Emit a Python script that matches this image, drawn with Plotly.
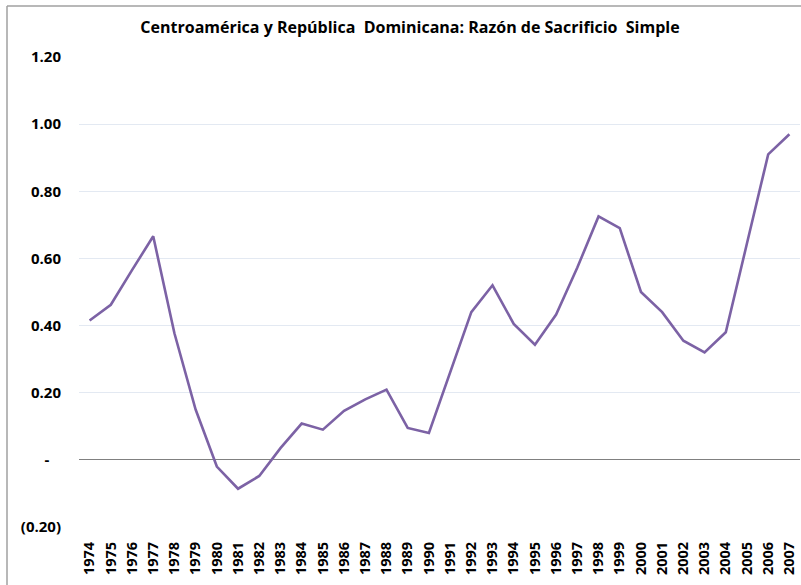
import plotly.graph_objects as go

years = [str(y) for y in range(1974, 2008)]
ratio = [0.415, 0.462, 0.565, 0.666, 0.377, 0.15, -0.02, -0.086, -0.048, 0.035,
         0.108, 0.09, 0.146, 0.18, 0.209, 0.095, 0.08, 0.26, 0.44, 0.52,
         0.405, 0.343, 0.433, 0.573, 0.725, 0.69, 0.50, 0.44, 0.355, 0.32,
         0.38, 0.645, 0.91, 0.97]
ytick_vals = [-0.2, 0.0, 0.2, 0.4, 0.6, 0.8, 1.0, 1.2]
ytick_text = ["(0.20)", "-&nbsp;&nbsp;&nbsp;", "0.20", "0.40", "0.60", "0.80", "1.00", "1.20"]
title_text = "Centroamérica y República  Dominicana: Razón de Sacrificio  Simple"

W, H = 801, 585
ml, mr, mt, mb = 79, 1, 57, 58
pw, ph = W - ml - mr, H - mt - mb

fig = go.Figure()
fig.add_trace(go.Scatter(x=years, y=ratio, mode="lines",
                         line=dict(color="#7C62A5", width=2.6), showlegend=False))

font_fam = "'Open Sans', Lato, sans-serif"
fig.update_layout(
    width=W, height=H,
    margin=dict(l=ml, r=mr, t=mt, b=mb),
    paper_bgcolor="white", plot_bgcolor="white",
    title=dict(text="<b>" + title_text.replace("  ", " &nbsp;") + "</b>", x=410 / W, xanchor="center",
               y=1 - 27 / H, yanchor="middle",
               font=dict(family=font_fam, size=16, color="black")),
    xaxis=dict(type="category", range=[-0.5, 33.5], tickangle=-90,
               showgrid=False, showline=False, ticks="",
               tickfont=dict(family=font_fam, size=14.5, color="black"),
               ticklabelstandoff=11),
    yaxis=dict(range=[-0.2, 1.2], tickvals=ytick_vals,
               ticktext=["<b>%s</b>" % t for t in ytick_text],
               showgrid=True, gridcolor="#E3E9F2", gridwidth=1,
               zeroline=True, zerolinecolor="#808080", zerolinewidth=1,
               showline=False, ticks="",
               tickfont=dict(family=font_fam, size=15, color="black"),
               ticklabelstandoff=17),
)
fig.update_xaxes(tickvals=years, ticktext=["<b>%s</b>" % y for y in years])

# outer chart border (left and top visible)
x0 = (7 - ml) / pw
y1 = 1 + (mt - 6) / ph
fig.add_shape(type="line", xref="paper", yref="paper", x0=x0, x1=x0, y0=-mb / ph - 0.01, y1=y1,
              line=dict(color="#A0A0A0", width=1.5))
fig.add_shape(type="line", xref="paper", yref="paper", x0=x0, x1=1 + mr / pw, y0=y1, y1=y1,
              line=dict(color="#A0A0A0", width=1.5))

fig.write_html("out.html")
